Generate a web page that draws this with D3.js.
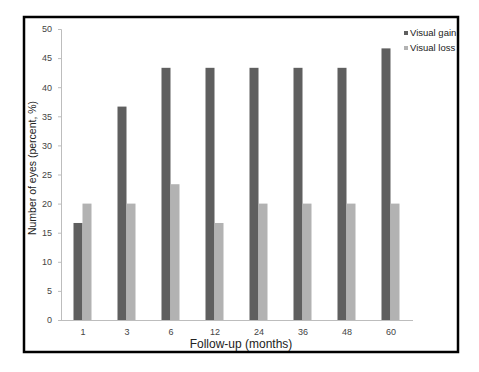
<!DOCTYPE html>
<html><head><meta charset="utf-8">
<script src="https://cdn.jsdelivr.net/npm/d3@7"></script>
<style>body{margin:0;background:#fff;}svg{display:block;}</style>
</head><body>
<script>
const categories = ["1","3","6","12","24","36","48","60"];
const visualGain = [16.67, 36.67, 43.33, 43.33, 43.33, 43.33, 43.33, 46.67];
const visualLoss = [20, 20, 23.33, 16.67, 20, 20, 20, 20];
const seriesNames = ["Visual gain", "Visual loss"];
const seriesColors = ["#5f5f5f", "#b2b2b2"];
const yTicks = [0,5,10,15,20,25,30,35,40,45,50];

(function () {
const W = 479, H = 372;
const svg = d3.select("body").append("svg").attr("width", W).attr("height", H);
const font = "Arial, 'Liberation Sans', sans-serif";

svg.append("rect").attr("x", 24).attr("y", 17).attr("width", 434).attr("height", 335)
  .attr("fill", "#fff").attr("stroke", "#000").attr("stroke-width", 2.5);

const mLeft = 61, mRight = 413, mTop = 29, mBottom = 320;
const x = d3.scaleBand().domain(categories).range([mLeft, mRight]);
const y = d3.scaleLinear().domain([0, 50]).range([mBottom, mTop]);
const barW = 9;

const g = svg.append("g");
[visualGain, visualLoss].forEach((vals, si) => {
  g.selectAll(null).data(vals).enter().append("rect")
    .attr("x", (d, i) => x(categories[i]) + x.bandwidth() / 2 - barW + si * barW - 0.5)
    .attr("y", d => y(d))
    .attr("width", barW)
    .attr("height", d => y(0) - y(d))
    .attr("fill", seriesColors[si]);
});

const yAxis = d3.axisLeft(y).tickValues(yTicks).tickSize(3).tickPadding(6);
const ya = svg.append("g").attr("transform", `translate(${mLeft},0)`).call(yAxis);
ya.select(".domain").attr("stroke", "#bdbdbd");
ya.selectAll(".tick line").attr("stroke", "#bdbdbd");
ya.selectAll("text").attr("font-family", font).attr("font-size", 9).attr("fill", "#444");

const xAxis = d3.axisBottom(x).tickSize(0).tickPadding(9);
const xa = svg.append("g").attr("transform", `translate(0,${mBottom})`).call(xAxis);
xa.select(".domain").attr("stroke", "#bdbdbd").attr("d", `M${mLeft},0.5H${mRight}`);
xa.selectAll("text").attr("font-family", font).attr("font-size", 9).attr("fill", "#444");

svg.append("text").attr("x", 241).attr("y", 348).attr("text-anchor", "middle")
  .attr("font-family", font).attr("font-size", 12).attr("fill", "#222").text("Follow-up (months)");
svg.append("text").attr("transform", "translate(36,168) rotate(-90)").attr("text-anchor", "middle")
  .attr("font-family", font).attr("font-size", 10.5).attr("fill", "#222").text("Number of eyes (percent, %)");

seriesNames.forEach((n, i) => {
  const ly = 35 + i * 15;
  svg.append("rect").attr("x", 404).attr("y", ly - 4).attr("width", 4).attr("height", 4).attr("fill", seriesColors[i]);
  svg.append("text").attr("x", 410).attr("y", ly).attr("dy", "0.1em")
    .attr("font-family", font).attr("font-size", 9.5).attr("fill", "#222").text(n);
});
})();
</script>
</body></html>
